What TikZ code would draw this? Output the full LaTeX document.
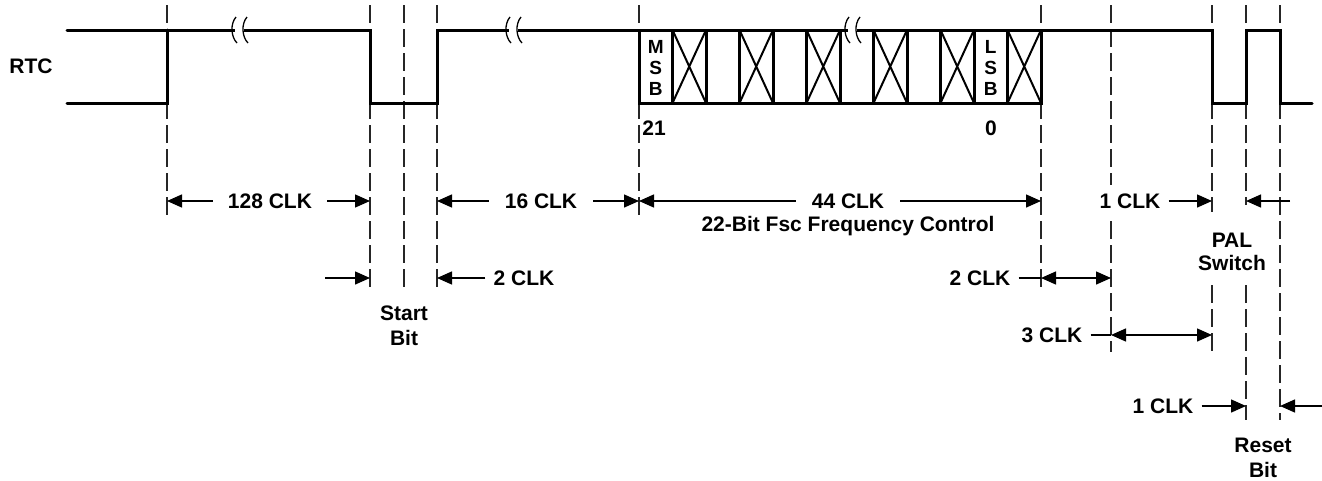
\documentclass[tikz,border=0pt]{standalone}
\usepackage{fontspec}
\setmainfont{Liberation Sans}
\usetikzlibrary{arrows.meta,positioning,calc}

\begin{document}
\begin{tikzpicture}[x=1pt, y=-1pt,
    wave/.style={line width=3pt, line cap=round, line join=miter},
    xmark/.style={line width=2pt},
    guide/.style={line width=1.3pt, black!85, dash pattern=on 18pt off 6pt},
    dim/.style={-{Triangle[length=15pt, width=13pt]}, line width=1.4pt},
    dimdbl/.style={{Triangle[length=15pt, width=13pt]}-{Triangle[length=15pt, width=13pt]}, line width=1.4pt},
    lead/.style={line width=1.4pt},
    lbl/.style={font=\bfseries\fontsize{21}{25}\selectfont, fill=white, inner xsep=8pt, inner ysep=2pt, align=center},
    cellt/.style={font=\bfseries\fontsize{19}{21}\selectfont, inner sep=0pt, align=center}
  ]
  \useasboundingbox (0,0) rectangle (1322,480);

  % time marks
  \coordinate (ta) at (167,0);
  \coordinate (sb1) at (370,0);
  \coordinate (sb2) at (404,0);
  \coordinate (sb3) at (437,0);
  \coordinate (d0) at (639,0);
  \coordinate (d1) at (1041,0);
  \coordinate (p0) at (1111,0);
  \coordinate (p1) at (1212,0);
  \coordinate (r0) at (1246,0);
  \coordinate (r1) at (1280,0);

  % dashed guides
  \foreach \x/\yb in {167/218, 370/290, 404/290, 437/290, 639/220, 1041/290, 1111/352, 1280/420}
    \draw[guide] (\x,5) -- (\x,\yb);
  \draw[guide] (1212,5) -- (1212,212);
  \draw[guide] (1212,285) -- (1212,352);
  \draw[guide] (1246,5) -- (1246,205);
  \draw[guide] (1246,285) -- (1246,420);

  % RTC waveform
  \draw[wave] (67,103) -- (167,103) -- (167,30);
  \draw[wave] (67,30) -- (370,30) -- (370,103) -- (437,103) -- (437,30) -- (1212,30)
    -- (1212,103) -- (1246,103) -- (1246,30) -- (1280,30) -- (1280,103) -- (1312,103);

  % data bits
  \draw[wave, line cap=butt] (639,30) -- (639,103) -- (1041,103) -- (1041,30);
  \foreach \i in {1,...,11}
    \draw[wave, line cap=butt] (639+\i*33.5,30) -- (639+\i*33.5,103);
  \foreach \i in {1,3,5,7,9,11}
    \draw[xmark] (639+\i*33.5,30) -- (672.5+\i*33.5,103)
                 (672.5+\i*33.5,30) -- (639+\i*33.5,103);

  % breaks in the line
  \foreach \x in {234,508,847} {
    \draw[white, line width=5pt] (\x+1,30) -- (\x+10,30);
    \draw[line width=1.3pt] (\x+2,17) .. controls (\x-4,24) and (\x-3,37) .. (\x+3,43);
    \draw[line width=1.3pt] (\x+13,17) .. controls (\x+7,24) and (\x+8,37) .. (\x+14,43);
  }

  % texts on the waveform
  \node[lbl] (rtc) at (31,66) {RTC};
  \node[cellt] (msb) at (655.75,68) {M\\S\\B};
  \node[cellt] (lsb) at (990.75,68) {L\\S\\B};
  \node[lbl, inner sep=0pt, fill=none] (b21) at (654,128) {21};
  \node[lbl, inner sep=0pt, fill=none] (b0) at (991,128) {0};

  % first row of spans
  \node[lbl, inner xsep=15pt] (c128) at (270,201) {128 CLK};
  \draw[dim] (c128.west) -- (c128.west -| ta);
  \draw[dim] (c128.east) -- (c128.east -| sb1);
  \node[lbl, inner xsep=16pt] (c16) at (541,201) {16 CLK};
  \draw[dim] (c16.west) -- (c16.west -| sb3);
  \draw[dim] (c16.east) -- (c16.east -| d0);
  \node[lbl, inner xsep=16pt] (c44) at (848,201) {44 CLK};
  \draw[dim] (c44.west) -- (c44.west -| d0);
  \draw[dim] (c44.east) -- (c44.east -| d1);
  \node[lbl, fill=none] (fsc) at (848,226) {22-Bit Fsc Frequency Control};
  \node[lbl, inner ysep=9pt] (c1a) at (1130,201) {1 CLK};
  \draw[dim] (c1a.east) -- (c1a.east -| p1);
  \coordinate (e1) at (1290,201);
  \draw[dim] (e1) -- (e1 -| r0);

  % lower rows
  \coordinate (e2) at (325,278);
  \draw[dim] (e2) -- (e2 -| sb1);
  \node[lbl] (c2a) at (524,278) {2 CLK};
  \draw[dim] (c2a.west) -- (c2a.west -| sb3);
  \node[lbl] (c2b) at (980,278) {2 CLK};
  \draw[lead] (c2b.east) -- (c2b.east -| d1);
  \draw[dimdbl] (c2b.east -| d1) -- (c2b.east -| p0);
  \node[lbl] (c3) at (1052,335) {3 CLK};
  \draw[lead] (c3.east) -- (c3.east -| p0);
  \draw[dimdbl] (c3.east -| p0) -- (c3.east -| p1);
  \node[lbl] (c1b) at (1163,406) {1 CLK};
  \draw[dim] (c1b.east) -- (c1b.east -| r0);
  \coordinate (e4) at (1322,406);
  \draw[dim] (e4) -- (e4 -| r1);

  % bit names
  \node[lbl, fill=none] (start) at (404,326) {Start\\Bit};
  \node[lbl, fill=none, font=\bfseries\fontsize{21}{23}\selectfont] (pal) at (1232,252) {PAL\\Switch};
  \node[lbl, fill=none] (reset) at (1263,458) {Reset\\Bit};
\end{tikzpicture}
\end{document}
